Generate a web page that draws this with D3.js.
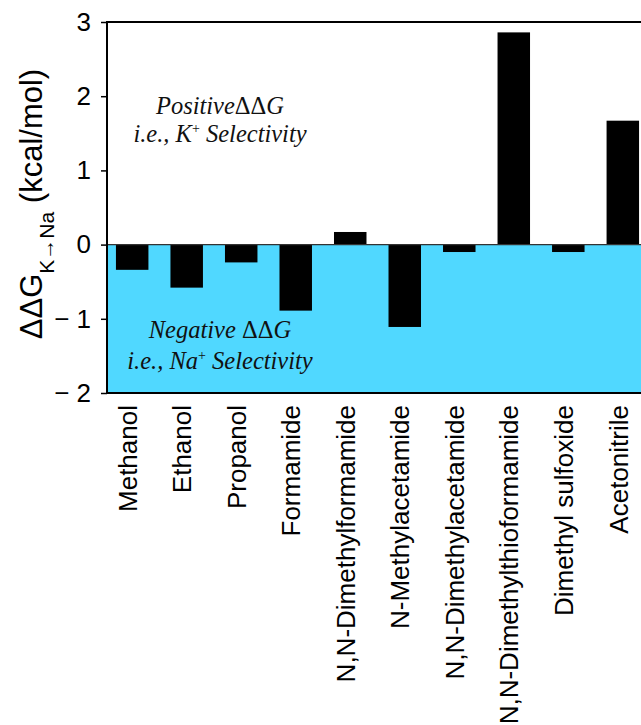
<!DOCTYPE html>
<html><head><meta charset="utf-8">
<script src="https://cdn.jsdelivr.net/npm/d3@7"></script>
<style>body{margin:0;background:#fff}svg{display:block}</style>
</head><body>
<svg id="c" width="641" height="725"></svg>
<script>
const categories = ["Methanol","Ethanol","Propanol","Formamide","N,N-Dimethylformamide","N-Methylacetamide","N,N-Dimethylacetamide","N,N-Dimethylthioformamide","Dimethyl sulfoxide","Acetonitrile"];
const ddG = [-0.34,-0.58,-0.24,-0.89,0.17,-1.11,-0.10,2.86,-0.10,1.67];
const yTicks = [-2,-1,0,1,2,3];

const svg = d3.select("#c");
const L = 107, R = 648, T = 22, B = 393;
const x = d3.scaleBand().domain(categories).range([L, R]).paddingInner(0.404).paddingOuter(0.164);
const y = d3.scaleLinear().domain([-2, 3]).range([B, T]);
const sans = "'Liberation Sans', Arial, Helvetica, sans-serif";
const serif = "'Liberation Serif', 'Times New Roman', serif";

// background regions
svg.append("rect").attr("x", L).attr("y", y(0)).attr("width", R - L).attr("height", y(-2) - y(0)).attr("fill", "#50d8ff");

// bars
svg.append("g").selectAll("rect").data(categories).join("rect")
  .attr("x", c => x(c))
  .attr("width", x.bandwidth())
  .attr("y", (c, i) => y(Math.max(0, ddG[i])))
  .attr("height", (c, i) => Math.abs(y(ddG[i]) - y(0)))
  .attr("fill", "#000");

// zero line
svg.append("line").attr("x1", L).attr("x2", R).attr("y1", y(0)).attr("y2", y(0)).attr("stroke", "#333").attr("stroke-width", 1.2);

// frame lines
svg.append("line").attr("x1", L).attr("x2", R).attr("y1", y(3)).attr("y2", y(3)).attr("stroke", "#000").attr("stroke-width", 2);
svg.append("line").attr("x1", L).attr("x2", R).attr("y1", y(-2)).attr("y2", y(-2)).attr("stroke", "#000").attr("stroke-width", 2);

// y axis
const fmt = d => d < 0 ? "\u2212 " + (-d) : String(d);
const ya = svg.append("g").attr("transform", `translate(${L},0)`)
  .call(d3.axisLeft(y).tickValues(yTicks).tickSize(6).tickPadding(10).tickFormat(fmt));
ya.select(".domain").attr("stroke-width", 2).attr("d", `M0,${y(3)-1}V${y(-2)+1}`);
ya.selectAll(".tick line").attr("stroke-width", 1.5);
ya.selectAll(".tick text").attr("font-family", sans).attr("font-size", 26).attr("fill", "#000");

// x labels
svg.append("g").selectAll("text").data(categories).join("text")
  .attr("transform", c => `translate(${x(c) + x.bandwidth() / 2},405) rotate(-90)`)
  .attr("dy", "0.18em")
  .attr("text-anchor", "end")
  .attr("font-family", sans).attr("font-size", 26).attr("fill", "#000")
  .text(c => c);

// y title
const t = svg.append("text")
  .attr("transform", `translate(42,${(65 + 343) / 2}) rotate(-90)`)
  .attr("text-anchor", "middle")
  .attr("font-family", sans).attr("font-size", 31).attr("fill", "#000");
t.append("tspan").text("\u0394\u0394G");
t.append("tspan").attr("font-size", 21).attr("dy", 12).text("K\u2192Na");
t.append("tspan").attr("dy", -12).text(" (kcal/mol)");

// annotations
function note(lines, yy) {
  lines.forEach((ln, k) => {
    const tx = svg.append("text").attr("x", 220).attr("y", yy[k]).attr("text-anchor", "middle")
      .attr("font-family", serif).attr("font-style", "italic").attr("font-size", 24.5).attr("fill", "#111");
    ln.forEach(part => {
      const s = tx.append("tspan");
      if (part.sup) s.attr("font-size", 14).attr("font-style", "normal").attr("dy", -9).text(part.sup);
      else s.attr("dy", part.after ? 9 : 0).attr("font-style", part.up ? "normal" : null).text(part.t);
    });
  });
}
note([[{t:"Positive"}, {t:"\u0394\u0394", up:true}, {t:"G"}],
      [{t:"i.e., K"}, {sup:"+"}, {t:" Selectivity", after:true}]], [114, 142]);
note([[{t:"Negative "}, {t:"\u0394\u0394", up:true}, {t:"G"}],
      [{t:"i.e., Na"}, {sup:"+"}, {t:" Selectivity", after:true}]], [338, 369]);
</script>
</body></html>
